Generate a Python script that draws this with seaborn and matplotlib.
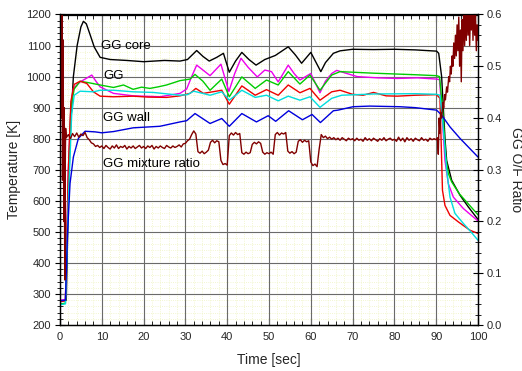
import numpy as np
import matplotlib
matplotlib.use("Agg")
import matplotlib.pyplot as plt
import seaborn as sns
from matplotlib.ticker import MultipleLocator

# ------------------------------------------------------------
# DATA
# ------------------------------------------------------------

# GG core temperature [K]
CORE_T = [0, 1.5, 2.0, 2.4, 3.2, 4.1, 5.0, 5.6, 6.3, 7.2, 8.2, 9.6, 12, 16, 20, 25,
          28.7, 30.5, 32.7, 34.2, 35.7, 37.5, 39.1, 40.5, 42.0, 43.5, 45.2, 46.9,
          49.0, 51.5, 54.6, 56.3, 57.8, 60.0, 62.4, 63.5, 65.4, 67, 70, 75, 80, 85,
          90.1, 90.6, 91.3, 92.1, 92.5, 93.7, 95.7, 97.7, 100]
CORE_K = [275, 280, 600, 800, 1000, 1100, 1160, 1178, 1170, 1135, 1095, 1062, 1055, 1052, 1048, 1052,
          1050, 1055, 1084, 1065, 1050, 1062, 1075, 1014, 1050, 1078, 1055, 1037,
          1055, 1068, 1096, 1070, 1043, 1078, 1016, 1045, 1075, 1083, 1088, 1087, 1088, 1086,
          1082, 1075, 1000, 800, 730, 666, 618, 580, 540]

# GG gas temperature [K]
GG_T = [0, 1.3, 2.0, 2.6, 3.2, 4.8, 6.0, 7.6, 8.6, 9.6, 12.8, 17.5, 23.9, 28.7, 30.3, 31.5,
        32.7, 34.3, 35.9, 38.5, 40.4, 41.8, 43.3, 45.0, 47.2, 49.0, 50.6, 52.2, 54.6, 56.0,
        57.4, 60.0, 62.2, 63.5, 65.0, 66.2, 68.6, 71.1, 75.9, 80.7, 85.5, 90.1, 90.8, 91.4,
        92.1, 92.9, 94.1, 96.5, 100]
GG_K = [280, 282, 700, 900, 962, 983, 992, 1005, 985, 967, 946, 938, 935, 946, 960, 1000,
        1037, 1020, 1003, 1040, 952, 1010, 1059, 1030, 999, 1021, 1016, 983, 1037, 1010,
        989, 1010, 948, 985, 1010, 1020, 1010, 1000, 996, 994, 996, 992, 990, 880,
        730, 655, 612, 575, 535]

GREEN_T = [0, 1.3, 2.0, 2.6, 3.4, 4.8, 7.0, 9.6, 12.8, 15.2, 17.5, 19.5, 21.5, 23.5, 25.5,
           28.7, 31.1, 32.3, 34.2, 35.9, 38.7, 40.5, 43.5, 46.7, 49.4, 52.2, 54.6, 57.4,
           59.8, 62.2, 65.0, 67.0, 75, 85, 90.1, 90.8, 91.5, 92.3, 92.9, 93.7, 95.5, 100]
GREEN_K = [268, 270, 650, 900, 960, 985, 980, 973, 965, 973, 959, 966, 962, 967, 973,
           987, 992, 1007, 985, 956, 992, 935, 999, 962, 989, 973, 1016, 976,
           1005, 956, 1005, 1016, 1011, 1006, 1003, 1000, 900, 740, 688, 661, 623, 555]

RED_T = [0, 1.3, 2.0, 2.6, 3.4, 4.8, 6.4, 8.0, 9.6, 12.8, 17.5, 21, 25.5, 28.7, 31.1, 32.5,
         34.3, 36.5, 38.7, 40.5, 43.5, 46.7, 49.4, 52.2, 54.6, 57.4, 59.8, 62.2, 65.0, 67.0,
         70, 72.5, 75, 78, 80.7, 85, 90.1, 90.9, 91.5, 92.1, 93.3, 95.3, 98.1, 100]
RED_K = [275, 278, 700, 920, 975, 985, 978, 951, 937, 935, 937, 934, 933, 938, 946, 962,
         946, 951, 956, 911, 970, 940, 958, 940, 973, 948, 962, 924, 951, 956,
         943, 940, 949, 938, 937, 940, 942, 930, 634, 585, 553, 532, 505, 495]

CYAN_T = [0, 1.3, 2.0, 2.8, 3.4, 4.8, 8.0, 9.6, 12.8, 17.5, 22.3, 28.7, 30.5, 32.0, 35.9,
          38.7, 40.5, 43.5, 46.7, 49.4, 52.2, 54.6, 57.4, 59.8, 62.2, 65.0, 67.4, 75, 85,
          90.1, 90.9, 91.6, 92.5, 93.3, 94.5, 96.5, 98.1, 100]
CYAN_K = [265, 268, 600, 880, 940, 953, 951, 956, 956, 951, 949, 940, 942, 953, 940,
          951, 924, 956, 933, 940, 922, 937, 924, 935, 901, 930, 940, 944, 945,
          943, 940, 850, 700, 612, 559, 527, 503, 473]

# GG wall temperature [K]
WALL_T = [0, 1.3, 1.8, 2.4, 3.2, 4.4, 6.0, 8.4, 10, 12.8, 17.5, 23.9, 28.7, 30.3, 32.3,
          35.9, 38.7, 40.5, 43.5, 47.0, 49.8, 51.6, 54.7, 58.0, 60.3, 62.3, 65.4, 66.5,
          70.1, 74.1, 81.3, 85, 90.1, 91.3, 93.3, 95.7, 100]
WALL_K = [278, 280, 495, 656, 741, 801, 824, 822, 819, 823, 835, 840, 854, 858, 881,
          849, 865, 840, 881, 854, 874, 856, 890, 861, 878, 852, 890, 892,
          903, 905, 903, 900, 892, 876, 838, 801, 741]

# GG mixture ratio (O/F), start-up spikes
MR_START_T = [0.0, 0.2, 0.35, 0.5, 0.6, 0.75, 0.9, 1.0, 1.15, 1.25, 1.35]
MR_START = [0.62, 0.66, 0.40, 0.63, 0.28, 0.55, 0.20, 0.42, 0.087, 0.30, 0.38]

# GG mixture ratio, sampled every 0.5 s from 1.5 s to 89.5 s
MR_STEP = 0.5
MR_FROM = 1.5
MR_VALUES = (
    # 1.5 .. 9.5
    [0.362, 0.368, 0.360, 0.370, 0.364, 0.371, 0.363, 0.369, 0.366, 0.372,
     0.362, 0.358, 0.352, 0.350, 0.345, 0.347, 0.343]
    # 10 .. 19.5
    + [0.346, 0.341, 0.347, 0.343, 0.340, 0.346, 0.342, 0.348, 0.341, 0.345,
       0.343, 0.347, 0.340, 0.345, 0.342, 0.346, 0.341, 0.344, 0.347, 0.342]
    # 20 .. 29.5
    + [0.345, 0.341, 0.346, 0.343, 0.347, 0.340, 0.345, 0.342, 0.346, 0.343,
       0.341, 0.347, 0.344, 0.342, 0.346, 0.343, 0.345, 0.348, 0.344, 0.350]
    # 30 .. 39.5
    + [0.351, 0.356, 0.359, 0.368, 0.375, 0.369, 0.335, 0.332, 0.336, 0.331,
       0.334, 0.338, 0.353, 0.357, 0.352, 0.356, 0.354, 0.318, 0.310, 0.312]
    # 40 .. 49.5
    + [0.309, 0.366, 0.371, 0.367, 0.372, 0.368, 0.370, 0.333, 0.330, 0.334,
       0.331, 0.333, 0.349, 0.353, 0.350, 0.354, 0.351, 0.334, 0.330, 0.333]
    # 50 .. 59.5
    + [0.331, 0.334, 0.330, 0.368, 0.372, 0.367, 0.371, 0.369, 0.372, 0.336,
       0.332, 0.335, 0.331, 0.334, 0.355, 0.358, 0.353, 0.357, 0.354, 0.356]
    # 60 .. 69.5
    + [0.315, 0.308, 0.311, 0.306, 0.340, 0.368, 0.362, 0.365, 0.360, 0.363,
       0.359, 0.362, 0.358, 0.361, 0.357, 0.362, 0.359, 0.356, 0.361, 0.358]
    # 70 .. 79.5
    + [0.360, 0.356, 0.361, 0.357, 0.359, 0.355, 0.362, 0.357, 0.360, 0.356,
       0.361, 0.358, 0.355, 0.360, 0.357, 0.362, 0.356, 0.359, 0.361, 0.357]
    # 80 .. 89.5
    + [0.359, 0.355, 0.363, 0.356, 0.361, 0.354, 0.362, 0.357, 0.360, 0.355,
       0.361, 0.358, 0.356, 0.362, 0.357, 0.359, 0.355, 0.361, 0.358, 0.360]
)

# GG mixture ratio, shut-down (noisy rise)
MR_END_T = [90.0, 90.3, 90.5, 90.7, 90.9, 91.1, 91.3, 91.6, 91.8, 92.0, 92.2, 92.5,
            92.7, 93.0, 93.2, 93.4, 93.6, 93.8, 94.0, 94.2, 94.4, 94.6, 94.8, 95.0,
            95.2, 95.4, 95.6, 95.8, 96.0, 96.2, 96.4, 96.6, 96.8, 97.0, 97.2, 97.4,
            97.6, 97.8, 98.0, 98.2, 98.4, 98.6, 98.8, 99.0, 99.2, 99.4, 99.6, 99.8, 100.0]
MR_END = [0.358, 0.362, 0.330, 0.400, 0.370, 0.410, 0.400, 0.430, 0.420, 0.445, 0.435, 0.460,
          0.450, 0.480, 0.470, 0.500, 0.485, 0.520, 0.500, 0.545, 0.515, 0.560, 0.520, 0.580,
          0.530, 0.595, 0.500, 0.570, 0.470, 0.590, 0.530, 0.620, 0.540, 0.610, 0.550, 0.630,
          0.560, 0.620, 0.540, 0.610, 0.570, 0.630, 0.550, 0.620, 0.560, 0.600, 0.530, 0.580, 0.550]

LABELS = ["GG core", "GG", "GG wall", "GG mixture ratio"]
LABEL_POS = [(9.8, 1098), (10.3, 1002), (10.3, 866), (10.3, 718)]

COLORS = {
    "core": "#000000",
    "gg": "#ee00ee",
    "green": "#00cc00",
    "red": "#ee0000",
    "cyan": "#00dddd",
    "wall": "#0000dd",
    "mr": "#800000",
}

# ------------------------------------------------------------
# PLOT
# ------------------------------------------------------------

sns.set_theme(style="white")
plt.rcParams["font.family"] = ["Liberation Sans", "DejaVu Sans"]

fig = plt.figure(figsize=(5.22, 3.71), dpi=100)
ax = fig.add_axes([60 / 522, 1 - 325 / 371, 418 / 522, 310.5 / 371])
ax.set_facecolor("white")

ax.set_xlim(0, 100)
ax.set_ylim(200, 1200)
ax.xaxis.set_major_locator(MultipleLocator(10))
ax.xaxis.set_minor_locator(MultipleLocator(2))
ax.yaxis.set_major_locator(MultipleLocator(100))
ax.yaxis.set_minor_locator(MultipleLocator(20))
ax.set_axisbelow(True)
# faint dotted minor grid, solid grey major grid drawn above it
ax.grid(which="minor", color="#eef3c0", lw=0.6, ls=":")
for xv in ax.get_xticks():
    if 0 < xv < 100:
        ax.axvline(xv, color="#6a6a6a", lw=0.8, zorder=0.8)
for yv in ax.get_yticks():
    if 200 < yv < 1200:
        ax.axhline(yv, color="#6a6a6a", lw=0.8, zorder=0.8)

series = [
    (CORE_T, CORE_K, "core"),
    (GG_T, GG_K, "gg"),
    (GREEN_T, GREEN_K, "green"),
    (RED_T, RED_K, "red"),
    (CYAN_T, CYAN_K, "cyan"),
    (WALL_T, WALL_K, "wall"),
]
for t, k, key in series:
    sns.lineplot(x=t, y=k, ax=ax, color=COLORS[key], lw=1.0, estimator=None, sort=False)

ax.set_xlim(0, 100)
ax.set_ylim(200, 1200)

ax.tick_params(axis="x", which="both", direction="in", top=True, bottom=True,
               labelsize=8, pad=5, color="black")
ax.tick_params(axis="x", which="major", length=5, width=0.8)
ax.tick_params(axis="x", which="minor", length=3, width=0.6)
ax.tick_params(axis="y", which="both", direction="inout", left=True, labelsize=8,
               pad=3, color="black")
ax.tick_params(axis="y", which="major", length=7, width=0.8)
ax.tick_params(axis="y", which="minor", length=4, width=0.6)
for sp in ax.spines.values():
    sp.set_color("black")
    sp.set_linewidth(0.9)

ax.set_xlabel("Time [sec]", fontsize=10)
ax.xaxis.set_label_coords(0.5, -0.09)
ax.set_ylabel("Temperature [K]", fontsize=10)
ax.yaxis.set_label_coords(-0.094, 0.5)

for text, (x, y) in zip(LABELS, LABEL_POS):
    ax.text(x, y, text, fontsize=9.5, ha="left", va="center", color="black")

# mixture ratio on the right axis
ax2 = ax.twinx()
mr_t = (list(MR_START_T)
        + [MR_FROM + MR_STEP * i for i in range(len(MR_VALUES))]
        + list(MR_END_T))
mr_v = list(MR_START) + list(MR_VALUES) + list(MR_END)
sns.lineplot(x=mr_t, y=mr_v, ax=ax2, color=COLORS["mr"], lw=1.0, estimator=None, sort=False)
ax2.set_ylim(0.0, 0.6)
ax2.yaxis.set_major_locator(MultipleLocator(0.1))
ax2.yaxis.set_minor_locator(MultipleLocator(0.02))
ax2.tick_params(axis="y", which="both", direction="inout", right=True, labelsize=8,
                pad=3, color="black")
ax2.tick_params(axis="y", which="major", length=7, width=0.8)
ax2.tick_params(axis="y", which="minor", length=4, width=0.6)
ax2.grid(False)
ax2.set_ylabel("GG O/F Ratio", fontsize=10, rotation=270, va="center", ha="center")
ax2.yaxis.set_label_coords(1.09, 0.5)
for sp in ax2.spines.values():
    sp.set_color("black")
    sp.set_linewidth(0.9)

fig.savefig("out.png", dpi=100)
